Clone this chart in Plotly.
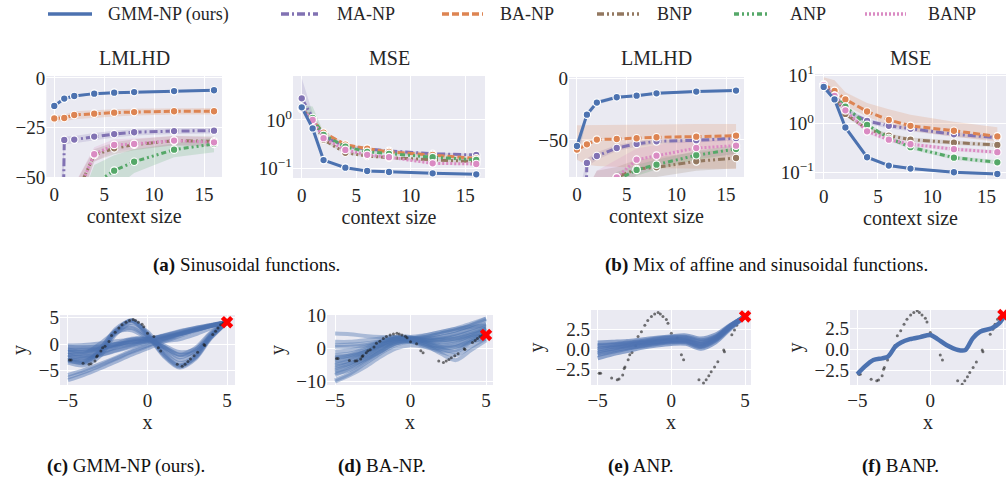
import plotly.graph_objects as go

FONT = "Liberation Serif, Times New Roman, DejaVu Serif, serif"
TXT = "#262626"
BG = "#EAEAF2"

CTX = [0, 1, 2, 4, 6, 8, 12, 16]
METHODS = ["GMM-NP (ours)", "MA-NP", "BA-NP", "BNP", "ANP", "BANP"]
COLORS = {"GMM-NP (ours)": "#4C72B0", "MA-NP": "#8172B3", "BA-NP": "#DD8452",
          "BNP": "#937860", "ANP": "#55A868", "BANP": "#DA8BC3"}
DASHES = {"GMM-NP (ours)": "solid", "MA-NP": "8px,3px,2px,3px", "BA-NP": "7px,3px",
          "BNP": "7px,3px,2px,3px,2px,3px", "ANP": "5px,3px,2px,3px,2px,3px,2px,3px",
          "BANP": "2px,2px"}
DRAW_ORDER = ["MA-NP", "BA-NP", "BNP", "ANP", "BANP", "GMM-NP (ours)"]

# ---- (a) sinusoidal: LMLHD ----
A_LML_MEAN = {
    "GMM-NP (ours)": [-14.1, -10.4, -9.1, -7.9, -7.4, -7.1, -6.6, -6.2],
    "BA-NP": [-20.4, -20.2, -18.7, -18.0, -17.5, -17.2, -16.8, -16.8],
    "MA-NP": [-400, -31.3, -31.1, -29.6, -28.3, -27.4, -26.8, -26.6],
    "BNP": [-120, -90, -61, -38.9, -35.5, -33.7, -31.6, -32.0],
    "BANP": [-120, -90, -62, -38.5, -33.8, -33.3, -31.6, -32.5],
    "ANP": [-200, -150, -90, -53.5, -46.8, -42.3, -36.2, -33.3],
}
A_LML_LO = {
    "GMM-NP (ours)": [-15.0, -11.2, -9.8, -8.5, -8.0, -7.7, -7.2, -6.8],
    "BA-NP": [-22.0, -22.0, -20.8, -20.0, -19.5, -19.0, -18.5, -18.5],
    "MA-NP": [-700, -33.5, -33.0, -31.5, -30.0, -29.0, -28.3, -28.0],
    "BNP": [-160, -110, -70, -42, -38.5, -36.5, -34, -34.5],
    "BANP": [-160, -110, -72, -42.5, -37, -36, -34, -35],
    "ANP": [-260, -190, -115, -66, -56, -48, -40, -37.5],
}
A_LML_HI = {
    "GMM-NP (ours)": [-13.2, -9.6, -8.4, -7.3, -6.8, -6.5, -6.0, -5.6],
    "BA-NP": [-19.0, -18.6, -16.8, -16.2, -15.8, -15.5, -15.2, -15.2],
    "MA-NP": [-100, -29.5, -29.3, -27.8, -26.7, -25.9, -25.4, -25.2],
    "BNP": [-90, -75, -54, -36, -32.5, -31, -29.3, -29.5],
    "BANP": [-90, -72, -54, -35, -31, -30.5, -29.3, -30],
    "ANP": [-150, -115, -70, -44, -39, -36, -33, -30],
}
# ---- (a) sinusoidal: MSE ----
A_MSE_MEAN = {
    "GMM-NP (ours)": [1.83, 0.67, 0.148, 0.103, 0.088, 0.084, 0.079, 0.075],
    "MA-NP": [2.8, 1.1, 0.45, 0.29, 0.25, 0.229, 0.2, 0.189],
    "BA-NP": [1.7, 0.95, 0.55, 0.31, 0.255, 0.22, 0.19, 0.16],
    "ANP": [1.75, 1.1, 0.49, 0.28, 0.22, 0.2, 0.17, 0.15],
    "BNP": [1.75, 1.0, 0.39, 0.21, 0.18, 0.166, 0.15, 0.138],
    "BANP": [1.75, 1.0, 0.42, 0.24, 0.19, 0.17, 0.127, 0.123],
}
A_MSE_LO = {
    "GMM-NP (ours)": [1.74, 0.64, 0.141, 0.098, 0.084, 0.080, 0.075, 0.071],
    "MA-NP": [1.5, 0.9, 0.4, 0.27, 0.235, 0.215, 0.19, 0.178],
    "BA-NP": [1.5, 0.85, 0.5, 0.29, 0.24, 0.205, 0.178, 0.15],
    "ANP": [1.5, 0.95, 0.44, 0.26, 0.205, 0.187, 0.16, 0.14],
    "BNP": [1.6, 0.92, 0.36, 0.195, 0.168, 0.155, 0.14, 0.128],
    "BANP": [1.6, 0.92, 0.39, 0.223, 0.177, 0.158, 0.118, 0.114],
}
A_MSE_HI = {
    "GMM-NP (ours)": [1.92, 0.70, 0.155, 0.108, 0.092, 0.088, 0.083, 0.079],
    "MA-NP": [7.3, 1.4, 0.5, 0.31, 0.265, 0.245, 0.212, 0.2],
    "BA-NP": [1.95, 1.05, 0.6, 0.33, 0.27, 0.235, 0.2, 0.17],
    "ANP": [2.0, 1.9, 0.56, 0.3, 0.235, 0.215, 0.18, 0.16],
    "BNP": [1.9, 1.08, 0.42, 0.225, 0.193, 0.178, 0.16, 0.148],
    "BANP": [1.9, 1.08, 0.45, 0.257, 0.203, 0.182, 0.136, 0.132],
}
# ---- (b) affine + sinusoidal: LMLHD ----
B_LML_MEAN = {
    "GMM-NP (ours)": [-54.9, -29.5, -19.7, -15.4, -14.1, -12.2, -10.8, -10.0],
    "BA-NP": [-57.8, -53.5, -49.7, -49.2, -48.6, -47.8, -47.3, -46.5],
    "MA-NP": [-400, -68.6, -63, -56.5, -53.2, -51.1, -50.3, -48.6],
    "BANP": [-150, -120, -100, -80.3, -66, -62.7, -56.5, -54.6],
    "ANP": [-200, -150, -110, -82.4, -74.3, -70, -62.4, -57.3],
    "BNP": [-150, -120, -100, -80.3, -73.5, -72.2, -67.3, -64.6],
}
B_LML_LO = {
    "GMM-NP (ours)": [-67, -32, -21.5, -16.8, -15.3, -13.3, -11.8, -11],
    "BA-NP": [-66, -70, -71, -72, -72.5, -73, -73, -73.5],
    "MA-NP": [-700, -72, -66, -59, -55.5, -53, -52, -50.5],
    "BANP": [-200, -160, -130, -92, -78, -72, -64, -62],
    "ANP": [-260, -190, -140, -90, -79, -74, -66, -61],
    "BNP": [-200, -160, -130, -90, -81, -80, -75, -73],
}
B_LML_HI = {
    "GMM-NP (ours)": [-50, -27, -18, -14, -12.9, -11.1, -9.8, -9],
    "BA-NP": [-38, -38, -38, -38, -37.5, -37.5, -37, -37],
    "MA-NP": [-100, -65, -60, -54, -51, -49.2, -48.6, -46.8],
    "BANP": [-110, -90, -75, -66, -57, -54, -50, -48],
    "ANP": [-160, -120, -90, -76, -70, -66, -59, -54],
    "BNP": [-110, -90, -75, -72, -66, -64, -60, -57],
}
# ---- (b) affine + sinusoidal: MSE ----
B_MSE_MEAN = {
    "GMM-NP (ours)": [5.8, 3.2, 0.84, 0.204, 0.137, 0.119, 0.1, 0.092],
    "BA-NP": [6.5, 4.8, 3.2, 1.8, 1.2, 0.91, 0.72, 0.55],
    "MA-NP": [6.5, 4.0, 1.88, 1.15, 0.91, 0.79, 0.61, 0.52],
    "BNP": [6.3, 3.8, 1.6, 0.78, 0.57, 0.47, 0.41, 0.365],
    "ANP": [6.3, 3.8, 2.27, 0.95, 0.51, 0.33, 0.2, 0.16],
    "BANP": [6.3, 3.8, 1.9, 0.7, 0.47, 0.38, 0.3, 0.26],
}
B_MSE_LO = {
    "GMM-NP (ours)": [5.3, 2.9, 0.77, 0.19, 0.128, 0.111, 0.094, 0.087],
    "BA-NP": [5.5, 3.8, 2.4, 1.4, 0.95, 0.72, 0.55, 0.42],
    "MA-NP": [5.7, 3.5, 1.65, 1.01, 0.8, 0.7, 0.54, 0.46],
    "BNP": [5.7, 3.4, 1.44, 0.7, 0.51, 0.42, 0.37, 0.33],
    "ANP": [5.7, 3.4, 2.04, 0.86, 0.46, 0.3, 0.18, 0.144],
    "BANP": [5.7, 3.4, 1.7, 0.63, 0.42, 0.34, 0.27, 0.234],
}
B_MSE_HI = {
    "GMM-NP (ours)": [6.3, 3.5, 0.91, 0.22, 0.146, 0.127, 0.106, 0.097],
    "BA-NP": [9.2, 8.0, 4.5, 2.7, 2.0, 1.55, 1.1, 0.85],
    "MA-NP": [7.3, 4.5, 2.1, 1.29, 1.02, 0.88, 0.68, 0.58],
    "BNP": [6.9, 4.2, 1.76, 0.86, 0.63, 0.52, 0.45, 0.4],
    "ANP": [6.9, 4.2, 2.5, 1.05, 0.56, 0.36, 0.22, 0.176],
    "BANP": [6.9, 4.2, 2.1, 0.77, 0.52, 0.42, 0.33, 0.286],
}

# ---- bottom row: ground-truth function points and context point ----
TRUE_X = [-4.9, -4.8, -4.05, -3.67, -3.55, -3.3, -3.2, -3.15, -2.93, -2.82, -2.67, -2.42,
          -2.26, -2.03, -1.8, -1.6, -1.35, -1.13, -0.9, -0.75, -0.57, -0.34, -0.23, 0.0,
          0.4, 0.68, 0.83, 1.87, 2.18, 2.36, 2.54, 2.7, 2.93, 3.15, 3.55, 3.6, 4.1, 4.28,
          4.43, 4.6, 4.75]
TRUE_Y = [-3.0, -3.0, -3.6, -3.8, -3.7, -3.2, -2.4, -2.2, -1.3, -0.7, -0.4, 0.45,
          1.6, 2.2, 3.0, 3.6, 4.1, 4.4, 4.6, 4.4, 4.1, 3.7, 3.25, 2.0,
          1.4, -0.7, -1.3, -3.8, -4.2, -3.8, -3.3, -2.8, -2.2, -1.55, -0.1, -0.3, 1.8, 2.4,
          3.0, 3.6, 3.9]
CTX_X = [5.0]
CTX_Y = [4.1]

SAMPLE_X = [-5, -4, -3, -2, -1, 0, 1, 2, 3, 4, 5]
GMM_SAMPLES = [
    [-3.0, -3.6, -1.8, 2.3, 4.5, 2.0, -1.8, -4.0, -2.5, 1.5, 4.1],
    [-2.5, -3.2, -1.2, 2.8, 4.3, 1.6, -2.2, -4.4, -2.8, 1.2, 4.1],
    [-3.5, -4.0, -2.3, 1.8, 4.0, 2.3, -1.3, -3.6, -2.2, 1.8, 4.1],
    [-2.8, -3.3, -1.5, 2.5, 4.4, 1.8, -2.0, -4.2, -2.6, 1.4, 4.1],
    [-2.0, -2.6, -0.8, 2.5, 3.4, 1.5, -1.0, -3.0, -1.8, 1.6, 4.1],
    [-3.2, -3.4, -1.5, 2.0, 3.0, 1.2, -0.6, -2.5, -1.2, 2.0, 4.1],
    [-1.5, -1.8, 0.0, 2.2, 2.6, 1.0, -0.5, -2.0, -0.8, 2.2, 4.1],
    [-0.3, -0.2, 0.1, 0.5, 0.8, 1.0, 1.4, 2.0, 2.7, 3.4, 4.1],
    [-1.0, -0.9, -0.6, -0.1, 0.4, 0.7, 1.2, 1.9, 2.6, 3.4, 4.1],
    [-2.0, -1.8, -1.3, -0.7, -0.1, 0.5, 1.1, 1.8, 2.6, 3.4, 4.1],
    [-3.0, -2.7, -2.1, -1.3, -0.5, 0.3, 1.0, 1.8, 2.6, 3.4, 4.1],
    [-1.5, -1.4, -1.0, -0.4, 0.2, 0.8, 1.6, 2.4, 3.0, 3.6, 4.1],
    [-2.5, -2.4, -2.0, -1.2, -0.3, 0.6, 1.5, 2.3, 3.0, 3.6, 4.1],
    [-0.5, -0.6, -0.4, 0.0, 0.3, 0.5, 0.6, 0.9, 1.8, 3.0, 4.1],
    [-1.2, -1.1, -0.8, -0.2, 0.5, 1.0, 1.5, 2.2, 2.9, 3.5, 4.1],
    [-6.8, -5.8, -4.6, -3.3, -2.0, -0.8, 0.4, 1.5, 2.5, 3.4, 4.1],
    [-6.3, -5.3, -4.1, -2.8, -1.5, -0.4, 0.7, 1.7, 2.7, 3.5, 4.1],
    [-5.8, -4.9, -3.8, -2.6, -1.3, -0.2, 0.9, 1.9, 2.8, 3.5, 4.1],
    [-2.0, -2.2, -1.8, -0.5, 0.8, 1.0, -0.2, -1.5, -1.0, 1.5, 4.1],
    [-1.0, -1.5, -1.0, 0.0, 1.0, 0.8, -0.5, -2.0, -1.5, 1.2, 4.1],
]
BA_SAMPLES = [
    [-3.0, -2.0, -0.5, 1.5, 3.0, 3.0, 2.5, 2.5, 3.0, 4.5, 6.0],
    [-5.0, -3.5, -1.5, 0.8, 2.5, 2.8, 2.0, 1.5, 2.2, 4.0, 5.5],
    [-7.0, -5.5, -3.0, -0.2, 2.0, 2.5, 1.5, 0.5, 1.0, 3.0, 4.5],
    [-9.5, -7.5, -4.5, -1.5, 1.0, 2.0, 1.0, -0.5, -0.5, 2.0, 3.5],
    [4.5, 4.3, 3.8, 3.5, 3.5, 3.0, 3.5, 4.5, 5.5, 7.0, 8.5],
    [2.0, 2.0, 2.5, 3.0, 3.5, 3.2, 3.5, 4.5, 5.5, 7.0, 9.0],
    [-1.0, -0.5, 0.5, 2.0, 3.2, 3.0, 3.0, 3.5, 4.5, 6.0, 7.5],
    [-4.0, -3.0, -1.0, 1.0, 2.8, 3.0, 3.0, 3.5, 4.5, 6.0, 7.0],
    [-6.0, -4.5, -2.5, 0.0, 2.0, 2.2, 1.0, -1.5, -3.5, -0.5, 2.5],
    [-8.0, -6.0, -3.5, -1.0, 1.5, 2.0, 0.5, -1.0, -2.0, 0.5, 3.0],
    [-2.0, -1.5, 0.0, 2.0, 3.5, 3.5, 2.0, 0.5, 0.5, 2.5, 4.5],
    [0.5, 0.5, 1.0, 2.0, 3.0, 3.0, 4.0, 5.0, 6.0, 6.5, 7.0],
    [-10.0, -8.0, -5.5, -2.5, 0.0, 1.0, 0.5, 0.0, 0.5, 2.0, 3.0],
    [-5.5, -4.5, -2.0, 0.5, 2.5, 2.5, 1.5, 0.0, -1.0, 2.0, 5.0],
    [-3.5, -2.5, -1.0, 1.0, 3.0, 3.5, 4.0, 5.0, 6.0, 7.5, 9.0],
    [-7.5, -6.5, -4.0, -1.0, 1.5, 2.5, 2.5, 2.5, 3.0, 4.0, 5.0],
    [-4.5, -3.8, -2.0, 0.5, 2.2, 2.6, 2.2, 2.0, 2.5, 3.5, 4.2],
    [-2.5, -2.2, -1.0, 1.2, 2.8, 3.0, 2.8, 3.0, 3.8, 5.0, 6.5],
    [-6.5, -5.0, -3.2, -0.8, 1.6, 2.2, 1.8, 1.0, 1.5, 3.5, 6.0],
    [1.0, 1.2, 1.5, 2.2, 3.0, 2.8, 2.5, 2.8, 3.5, 5.0, 6.0],
]
ANP_SAMPLES = [
    [0.8, 0.9, 1.0, 1.2, 1.4, 1.6, 1.7, 1.3, 1.8, 3.0, 4.1],
    [0.3, 0.5, 0.7, 0.9, 1.2, 1.4, 1.4, 0.9, 1.5, 2.9, 4.1],
    [-0.2, 0.1, 0.4, 0.7, 0.9, 1.1, 1.1, 0.6, 1.3, 2.8, 4.1],
    [-0.7, -0.3, 0.1, 0.4, 0.7, 0.9, 0.9, 0.3, 1.1, 2.7, 4.1],
    [-1.1, -0.6, -0.2, 0.2, 0.5, 0.7, 0.7, 0.1, 0.9, 2.6, 4.1],
    [0.0, 0.3, 0.5, 0.8, 1.0, 1.2, 1.2, 0.7, 1.4, 2.9, 4.1],
    [0.5, 0.6, 0.8, 1.0, 1.3, 1.5, 1.5, 1.1, 1.6, 2.95, 4.1],
    [-0.5, -0.1, 0.2, 0.5, 0.8, 1.0, 1.0, 0.4, 1.2, 2.75, 4.1],
]
BANP_X = [-5, -4.5, -3.9, -3.3, -2.9, -2.4, -2.0, -1.4, -0.7, 0, 0.5, 1.1, 1.9, 2.4,
          2.9, 3.4, 4.2, 4.7, 5.0]
BANP_Y = [-3.0, -2.1, -1.3, -1.1, -0.9, 0.3, 0.8, 1.2, 1.45, 1.7, 1.2, 0.5, -0.1, -0.1,
          1.3, 2.1, 2.5, 3.1, 3.8]


def rgba(hexc, a):
    h = hexc.lstrip("#")
    return "rgba(%d,%d,%d,%.3f)" % (int(h[0:2], 16), int(h[2:4], 16), int(h[4:6], 16), a)


fig = go.Figure()

TOP = [("x", "y", A_LML_MEAN, A_LML_LO, A_LML_HI),
       ("x2", "y2", A_MSE_MEAN, A_MSE_LO, A_MSE_HI),
       ("x3", "y3", B_LML_MEAN, B_LML_LO, B_LML_HI),
       ("x4", "y4", B_MSE_MEAN, B_MSE_LO, B_MSE_HI)]

for xa, ya, mean, lo, hi in TOP:
    for m in DRAW_ORDER:
        fig.add_trace(go.Scatter(x=CTX, y=lo[m], xaxis=xa, yaxis=ya, mode="lines",
                                 line=dict(width=0, color=COLORS[m]), showlegend=False,
                                 hoverinfo="skip"))
        fig.add_trace(go.Scatter(x=CTX, y=hi[m], xaxis=xa, yaxis=ya, mode="lines",
                                 line=dict(width=0, color=COLORS[m]), fill="tonexty",
                                 fillcolor=rgba(COLORS[m], 0.2), showlegend=False,
                                 hoverinfo="skip"))
    for m in DRAW_ORDER:
        fig.add_trace(go.Scatter(x=CTX, y=mean[m], xaxis=xa, yaxis=ya, mode="lines+markers",
                                 name=m, showlegend=False,
                                 line=dict(color=COLORS[m], width=3, dash=DASHES[m]),
                                 marker=dict(size=7.5, color=COLORS[m],
                                             line=dict(color="white", width=1.2))))

BLUE = COLORS["GMM-NP (ours)"]


def add_samples(samples, xa, ya, alpha, width):
    for s in samples:
        fig.add_trace(go.Scatter(x=SAMPLE_X, y=s, xaxis=xa, yaxis=ya, mode="lines",
                                 line=dict(color=rgba(BLUE, alpha), width=width,
                                           shape="spline", smoothing=0.9),
                                 showlegend=False, hoverinfo="skip"))


def add_truth(xa, ya):
    fig.add_trace(go.Scatter(x=TRUE_X, y=TRUE_Y, xaxis=xa, yaxis=ya, mode="markers",
                             marker=dict(size=3, color="rgba(25,25,25,0.6)"),
                             showlegend=False, hoverinfo="skip"))


def add_ctx(xa, ya):
    fig.add_trace(go.Scatter(x=CTX_X, y=CTX_Y, xaxis=xa, yaxis=ya, mode="markers",
                             marker=dict(symbol="x", size=11, color="#FF0000",
                                         line=dict(width=0)),
                             showlegend=False, hoverinfo="skip", cliponaxis=False))


add_samples(GMM_SAMPLES, "x5", "y5", 0.45, 4)
add_truth("x5", "y5")
add_ctx("x5", "y5")

add_samples(BA_SAMPLES, "x6", "y6", 0.4, 4)
add_truth("x6", "y6")
add_ctx("x6", "y6")

add_truth("x7", "y7")
add_samples(ANP_SAMPLES, "x7", "y7", 0.6, 4.5)
add_ctx("x7", "y7")

add_truth("x8", "y8")
fig.add_trace(go.Scatter(x=BANP_X, y=BANP_Y, xaxis="x8", yaxis="y8", mode="lines",
                         line=dict(color=BLUE, width=4.5, shape="spline", smoothing=0.8),
                         showlegend=False, hoverinfo="skip"))
add_ctx("x8", "y8")

W, H = 1006, 481


def px_x(a, b):
    return [a / W, b / W]


def px_y(top, bottom):
    return [1 - bottom / H, 1 - top / H]


tick_font = dict(family=FONT, size=19, color=TXT)
title_font = dict(family=FONT, size=20, color=TXT)

base = dict(showgrid=True, gridcolor="white", gridwidth=1.3, zeroline=False,
            showline=False, ticks="", tickfont=tick_font, automargin=False)


def xax(dom, anchor, rng, tickvals, title, standoff, tls=0):
    d = dict(base)
    d.update(domain=dom, anchor=anchor, range=rng, tickvals=tickvals,
             ticktext=[("−%g" % -v) if v < 0 else "%g" % v for v in tickvals],
             ticklabelstandoff=tls,
             title=dict(text=title, font=title_font, standoff=standoff))
    return d


def yax(dom, anchor, rng, tickvals, ticktext, title="", standoff=4, typ="linear"):
    d = dict(base)
    d.update(domain=dom, anchor=anchor, range=rng, tickvals=tickvals, ticktext=ticktext,
             type=typ, title=dict(text=title, font=title_font, standoff=standoff))
    return d


layout = dict(
    width=W, height=H, margin=dict(l=0, r=0, t=0, b=0),
    plot_bgcolor=BG, paper_bgcolor="white", showlegend=False,
    font=dict(family=FONT, color=TXT),
    xaxis=xax(px_x(46.3, 222), "y", [-0.8, 16.8], [0, 5, 10, 15], "context size", 2, 4),
    yaxis=yax(px_y(76, 177), "x", [-50, 1], [0, -25, -50], ["0", "−25", "−50"]),
    xaxis2=xax(px_x(293, 485), "y2", [-0.8, 16.8], [0, 5, 10, 15], "context size", 2, 4),
    yaxis2=yax(px_y(76, 178), "x2", [-1.2, 0.91], [0.1, 1],
               ["10<sup>−1</sup>", "10<sup>0</sup>"], typ="log"),
    xaxis3=xax(px_x(569, 744), "y3", [-0.8, 16.8], [0, 5, 10, 15], "context size", 2, 4),
    yaxis3=yax(px_y(77, 177), "x3", [-80, 1], [0, -50], ["0", "−50"]),
    xaxis4=xax(px_x(815, 1006), "y4", [-0.8, 16.8], [0, 5, 10, 15], "context size", 2, 4),
    yaxis4=yax(px_y(74, 179), "x4", [-1.14, 1.03], [0.1, 1, 10],
               ["10<sup>−1</sup>", "10<sup>0</sup>", "10<sup>1</sup>"], typ="log"),
    xaxis5=xax(px_x(60, 235), "y5", [-5.5, 5.5], [-5, 0, 5], "x", 3, 2),
    yaxis5=yax(px_y(315, 385), "x5", [-7.7, 5.45], [-5, 0, 5], ["−5", "0", "5"], "y", 6),
    xaxis6=xax(px_x(327, 493), "y6", [-5.53, 5.46], [-5, 0, 5], "x", 3, 2),
    yaxis6=yax(px_y(315, 385), "x6", [-11, 10.1], [-10, 0, 10], ["−10", "0", "10"], "y", 6),
    xaxis7=xax(px_x(591, 751), "y7", [-5.45, 5.4], [-5, 0, 5], "x", 3, 2),
    yaxis7=yax(px_y(310, 385), "x7", [-4.46, 4.9], [-2.5, 0, 2.5], ["−2.5", "0.0", "2.5"], "y", 6),
    xaxis8=xax(px_x(850, 1006), "y8", [-5.5, 5.18], [-5, 0, 5], "x", 3, 2),
    yaxis8=yax(px_y(310, 385), "x8", [-4.3, 4.7], [-2.5, 0, 2.5], ["−2.5", "0.0", "2.5"], "y", 6),
)
fig.update_layout(**layout)

# subplot titles
anns = []
for cx, txt in [(134, "LMLHD"), (389, "MSE"), (656.5, "LMLHD"), (910, "MSE")]:
    anns.append(dict(x=cx / W, y=1 - 58 / H, xref="paper", yref="paper", text=txt,
                     showarrow=False, font=title_font, xanchor="center", yanchor="middle"))

# captions
cap_font = dict(family=FONT, size=19, color="#111111")
for cx, cy, lab, txt in [(246, 265, "(a)", "Sinusoidal functions."),
                         (766, 265, "(b)", "Mix of affine and sinusoidal functions."),
                         (126, 466, "(c)", "GMM-NP (ours)."),
                         (382, 466, "(d)", "BA-NP."),
                         (640, 466, "(e)", "ANP."),
                         (900, 466, "(f)", "BANP.")]:
    anns.append(dict(x=cx / W, y=1 - cy / H, xref="paper", yref="paper",
                     text="<b>%s</b> %s" % (lab, txt), showarrow=False, font=cap_font,
                     xanchor="center", yanchor="middle"))

# legend (drawn row across the top)
LEG = [("GMM-NP (ours)", 48, 92, 106), ("MA-NP", 281, 318, 335), ("BA-NP", 442, 483, 498),
       ("BNP", 597, 639, 655), ("ANP", 734, 768, 788), ("BANP", 865, 906, 926)]
shapes = []
ly = 1 - 14 / H
for m, x0, x1, tx in LEG:
    shapes.append(dict(type="line", xref="paper", yref="paper", x0=x0 / W, x1=x1 / W,
                       y0=ly, y1=ly, line=dict(color=COLORS[m], width=3.5, dash=DASHES[m])))
    anns.append(dict(x=tx / W, y=ly, xref="paper", yref="paper", text=m, showarrow=False,
                     font=dict(family=FONT, size=18, color=TXT), xanchor="left",
                     yanchor="middle"))

fig.update_layout(annotations=anns, shapes=shapes)
fig.write_html("out.html")
